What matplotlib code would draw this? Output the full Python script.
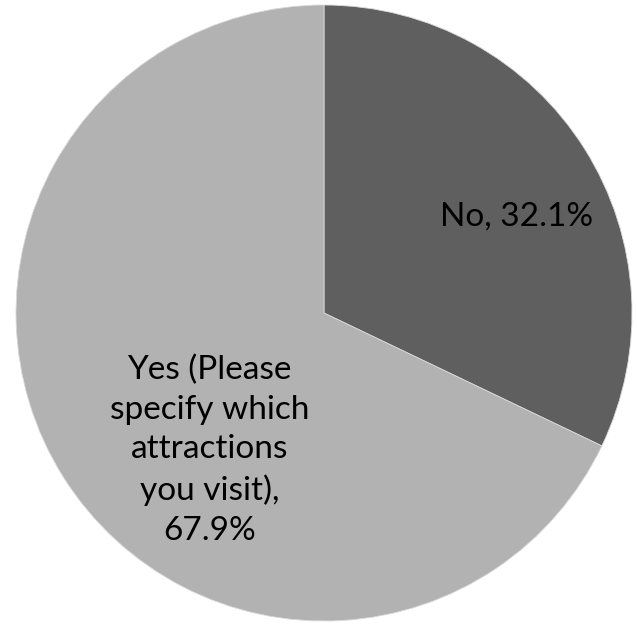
import matplotlib
matplotlib.use('Agg')
import matplotlib.pyplot as plt
import numpy as np

labels = ['No', 'Yes (Please\nspecify which\nattractions\nyou visit)']
values = [32.1, 67.9]
colors = ['#5f5f5f', '#b2b2b2']
seps = [', ', ',\n']

fig = plt.figure(figsize=(6.37, 6.24), dpi=100)
ax = fig.add_axes([16 / 637, 3 / 624, 616 / 637, 616 / 624])
wedges, _ = ax.pie(values, colors=colors, startangle=90, counterclock=False,
                   radius=1.0, wedgeprops=dict(edgecolor='#d9d9d9', linewidth=0.6))
ax.set_xlim(-1, 1)
ax.set_ylim(-1, 1)

# label positions (radius, angle in degrees) picked to match the original
label_pos = [(0.70, 26.7), (0.58, 230.2)]
for lab, val, sep, (r, ang) in zip(labels, values, seps, label_pos):
    x = r * np.cos(np.radians(ang))
    y = r * np.sin(np.radians(ang))
    ax.text(x, y, f'{lab}{sep}{val:.1f}%', ha='center', va='center',
            fontsize=24, family='Lato', linespacing=1.4, color='black')

plt.savefig('out.png', dpi=100)
